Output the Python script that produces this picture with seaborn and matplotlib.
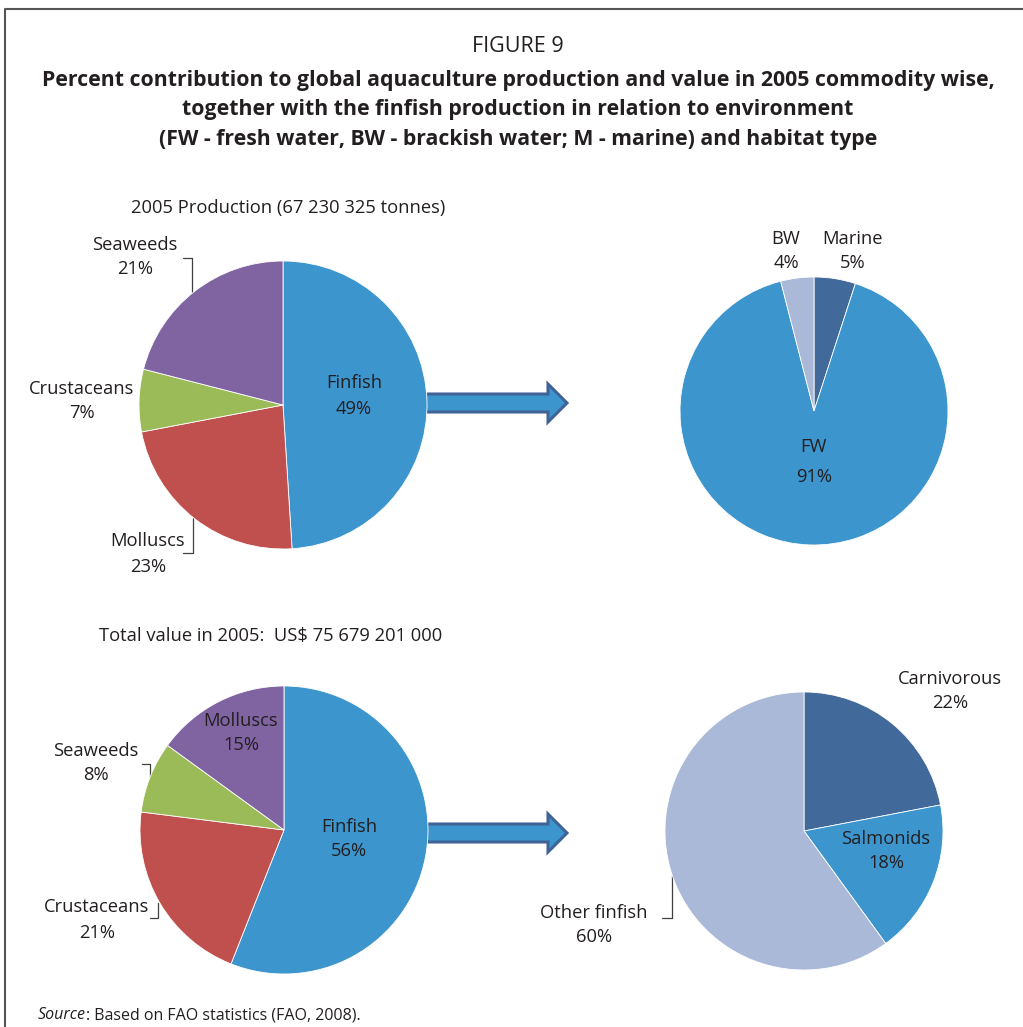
import matplotlib
matplotlib.use("Agg")
import matplotlib.pyplot as plt
import seaborn as sns
from matplotlib.patches import Polygon

sns.set_theme(style="white")
plt.rcParams['font.family'] = ['Open Sans', 'DejaVu Sans']

# 2005 production, share by commodity (%)
prod_labels = ['Finfish', 'Molluscs', 'Crustaceans', 'Seaweeds']
prod_share = [49, 23, 7, 21]

# finfish production by environment (%)
env_labels = ['Marine', 'FW', 'BW']
env_share = [5, 91, 4]

# 2005 value, share by commodity (%)
value_labels = ['Finfish', 'Crustaceans', 'Seaweeds', 'Molluscs']
value_share = [56, 21, 8, 15]

# finfish value by habitat / type (%)
habitat_labels = ['Carnivorous', 'Salmonids', 'Other finfish']
habitat_share = [22, 18, 60]

W, H = 1023, 1027
TXT = '#231f20'
LBL = 13.2
commodity_colors = sns.color_palette(['#3d95ce', '#c0504d', '#9bbb59', '#8064a2'])
finfish_colors = sns.color_palette(['#41699a', '#3d95ce', '#aab9d7'])

fig = plt.figure(figsize=(W / 100, H / 100), dpi=100)


def overlay(z):
    ax = fig.add_axes([0, 0, 1, 1], zorder=z)
    ax.set_xlim(0, W)
    ax.set_ylim(H, 0)
    ax.axis('off')
    ax.patch.set_alpha(0)
    return ax


# bg: frame, arrows, leader lines (under the pies); fg: all text (over the pies)
bg = overlay(0)
fg = overlay(5)


def draw_pie(cx, cy, r, values, colors):
    ax = fig.add_axes([(cx - r) / W, 1 - (cy + r) / H, 2 * r / W, 2 * r / H], zorder=2)
    ax.pie(values, colors=colors, startangle=90, counterclock=False,
           wedgeprops=dict(linewidth=0.6, edgecolor='white', clip_on=False))
    ax.set_xlim(-1, 1)
    ax.set_ylim(-1, 1)
    ax.set_aspect('auto')
    ax.axis('off')
    return ax


def put_labels(names, shares, positions, spacing=1.5):
    for name, v, (x, y) in zip(names, shares, positions):
        fg.text(x, y, f"{name}\n{v}%", ha='center', va='center', fontsize=LBL,
                color=TXT, linespacing=spacing)


def arrow(y):
    pts = [(424, y - 9), (548, y - 9), (548, y - 19), (567, y),
           (548, y + 19), (548, y + 9), (424, y + 9)]
    bg.add_patch(Polygon(pts, closed=True, facecolor='#3d95ce',
                         edgecolor='#3f6396', linewidth=2.2, zorder=1))


# frame
bg.plot([5, 5, W], [H, 9, 9], color='#555555', lw=1.5)

# titles
fg.text(518, 47, 'FIGURE 9', ha='center', va='center', fontsize=15.5, color=TXT)
title = ('Percent contribution to global aquaculture production and value in 2005 commodity wise,\n'
         'together with the finfish production in relation to environment\n'
         '(FW - fresh water, BW - brackish water; M - marine) and habitat type')
fg.text(518, 110, title, ha='center', va='center', fontsize=15.3,
        fontweight='bold', color=TXT, linespacing=1.53)

# top row
fg.text(131, 208, '2005 Production (67 230 325 tonnes)', ha='left', va='center',
        fontsize=LBL, color=TXT)
draw_pie(283, 405, 144, prod_share, commodity_colors)
put_labels(prod_labels, prod_share, [(354, 396), (148, 554), (82, 401), (135, 257)])
bg.plot([183, 192, 192], [258, 258, 292], color='#404040', lw=0.9)
bg.plot([183, 193, 193], [553, 553, 518], color='#404040', lw=0.9)
arrow(403)

draw_pie(814, 411, 134, env_share, finfish_colors)
put_labels(env_labels[::2], env_share[::2], [(853, 251), (786, 251)])
put_labels(env_labels[1:2], env_share[1:2], [(814, 462)], spacing=1.8)

# bottom row
fg.text(99, 636, 'Total value in 2005:  US$ 75 679 201 000', ha='left', va='center',
        fontsize=LBL, color=TXT)
draw_pie(284, 830, 144, value_share, commodity_colors)
put_labels(value_labels, value_share, [(349, 839), (97, 920), (96, 763), (241, 733)])
bg.plot([142, 150, 150], [764, 764, 777], color='#404040', lw=0.9)
bg.plot([150, 158, 158], [918, 918, 903], color='#404040', lw=0.9)
arrow(833)

draw_pie(804, 831, 139, habitat_share, finfish_colors)
put_labels(habitat_labels, habitat_share, [(950, 691), (886, 851), (594, 925)])
bg.plot([662, 672, 672], [918, 918, 875], color='#404040', lw=0.9)

# source note
src = fg.text(38, 1015, 'Source', style='italic', ha='left', va='center',
              fontsize=11.5, color=TXT)
fg.annotate(': Based on FAO statistics (FAO, 2008).', xy=(1, 0.5), xycoords=src,
            ha='left', va='center', fontsize=11.5, color=TXT)

fig.savefig('out.png', dpi=100)
